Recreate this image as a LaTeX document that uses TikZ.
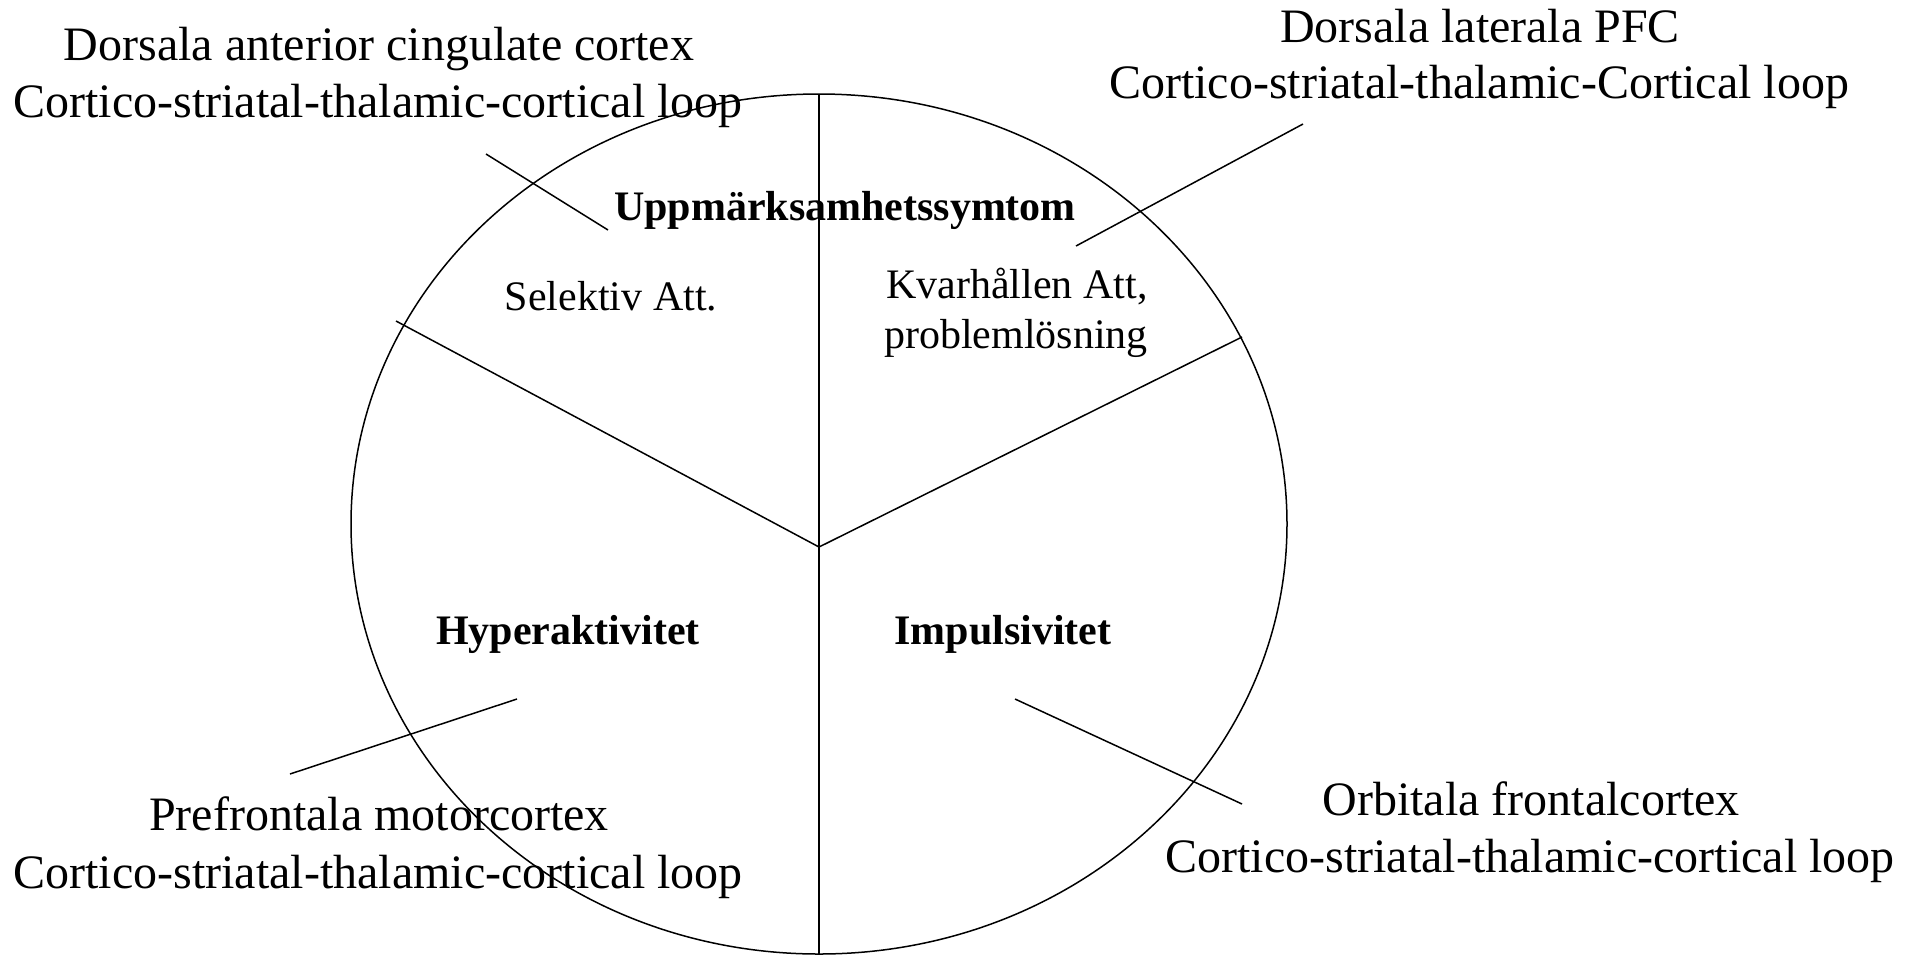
\documentclass[tikz,border=0pt]{standalone}
\usepackage{fontspec}
\setmainfont{Liberation Serif}
\begin{document}
\begin{tikzpicture}[x=1pt,y=-1pt,
  big/.style={inner sep=0pt, anchor=base, font=\fontsize{48}{57}\selectfont},
  mid/.style={inner sep=0pt, anchor=base, font=\fontsize{42}{51}\selectfont},
  midbold/.style={inner sep=0pt, anchor=base, font=\fontsize{42}{51}\selectfont\bfseries},
  ln/.style={line width=1.5pt, black}]
\useasboundingbox (0,0) rectangle (1916,954);
\fill[white] (0,0) rectangle (1916,954);
% ellipse and segment lines
\draw[ln] (819,524) ellipse [x radius=468pt, y radius=430pt];
\coordinate (ctr) at (819,547);
\coordinate (top) at (819,94);
\coordinate (bot) at (819,960);
\coordinate (lft) at (396,321);
\coordinate (rgt) at (1242,337);
\draw[ln] (top) -- (ctr) -- (bot);
\draw[ln] (lft) -- (ctr) -- (rgt);
% texts
\node[big] (acc1) at (379,60) {Dorsala anterior cingulate cortex};
\node[big] (acc2) at (378,117) {Cortico-striatal-thalamic-cortical loop};
\node[big] (dl1) at (1480,42) {Dorsala laterala PFC};
\node[big] (dl2) at (1479,98) {Cortico-striatal-thalamic-Cortical loop};
\node[midbold] (upp) at (845,220) {Uppmärksamhetssymtom};
\node[mid] (sel) at (611,310) {Selektiv Att.};
\node[mid] (kv1) at (1017,298) {Kvarhållen Att,};
\node[mid] (kv2) at (1016,348) {problemlösning};
\node[midbold] (hyp) at (568,644) {Hyperaktivitet};
\node[midbold] (imp) at (1003,644) {Impulsivitet};
\node[big] (pm1) at (379,830) {Prefrontala motorcortex};
\node[big] (pm2) at (378,888) {Cortico-striatal-thalamic-cortical loop};
\node[big] (of1) at (1531,815) {Orbitala frontalcortex};
\node[big] (of2) at (1530,872) {Cortico-striatal-thalamic-cortical loop};
% leader lines
\coordinate (tlA) at (486,154); \coordinate (tlB) at (608,230);
\coordinate (trA) at (1303,124); \coordinate (trB) at (1076,246);
\coordinate (blA) at (517,699); \coordinate (blB) at (290,774);
\coordinate (brA) at (1015,699); \coordinate (brB) at (1242,804);
\draw[ln] (tlA) -- (tlB);
\draw[ln] (trA) -- (trB);
\draw[ln] (blA) -- (blB);
\draw[ln] (brA) -- (brB);
\end{tikzpicture}
\end{document}
